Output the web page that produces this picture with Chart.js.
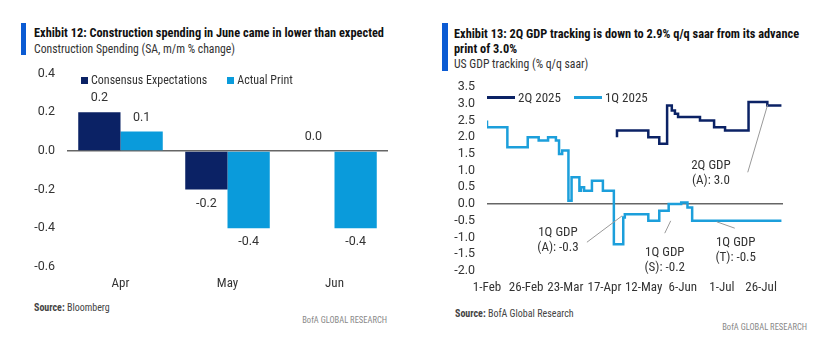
<!DOCTYPE html>
<html>
<head>
<meta charset="utf-8">
<script src="https://cdn.jsdelivr.net/npm/chart.js@4.4.1/dist/chart.umd.min.js"></script>
<style>
  body { margin: 0; width: 835px; height: 354px; background: #fff; position: relative; overflow: hidden;
         font-family: 'Liberation Sans Narrow', 'Roboto Condensed', 'DejaVu Sans Condensed', sans-serif; color: #222; }
  .abs { position: absolute; white-space: nowrap; transform-origin: left top; }
  .bar { position: absolute; background: #0b5bd3; width: 5px; }
  .title { font-weight: bold; font-size: 13px; line-height: 15px; color: #111; transform: scaleX(0.95); }
  .sub { font-size: 13px; line-height: 15px; color: #333; transform: scaleX(0.9); }
  .src { font-size: 10px; line-height: 12px; color: #444; }
  .brand { font-size: 8.5px; line-height: 10px; color: #888; }
  .leg { position: absolute; display: flex; align-items: center; white-space: nowrap; font-size: 12px; color: #333; }
  .leg span.sw { display: inline-block; margin-right: 3px; }
  canvas { position: absolute; }
</style>
</head>
<body>

<!-- left exhibit -->
<div class="bar" style="left:21px;top:23px;height:32px"></div>
<div class="abs title" style="left:34px;top:25px">Exhibit 12: Construction spending in June came in lower than expected</div>
<div class="abs sub" style="left:34px;top:41px">Construction Spending (SA, m/m % change)</div>
<canvas id="bars" width="420" height="240" style="left:0;top:54px"></canvas>
<div id="legBars" class="leg" style="left:81px;top:73px;gap:20px"></div>
<div class="abs src" style="left:34px;top:302px"><b>Source:</b> Bloomberg</div>
<div class="abs brand" style="right:448px;top:315px">BofA GLOBAL RESEARCH</div>

<!-- right exhibit -->
<div class="bar" style="left:442px;top:23px;height:48px;width:6px"></div>
<div class="abs title" style="left:454px;top:26px">Exhibit 13: 2Q GDP tracking is down to 2.9% q/q saar from its advance<br>print of 3.0%</div>
<div class="abs sub" style="left:454px;top:56px">US GDP tracking (% q/q saar)</div>
<canvas id="gdp" width="405" height="240" style="left:430px;top:60px"></canvas>
<div id="legGdp" class="leg" style="left:487px;top:90px;gap:13px;font-size:13px"></div>
<div class="abs src" style="left:455px;top:308px"><b>Source:</b> BofA Global Research</div>
<div class="abs brand" style="right:28px;top:322px">BofA GLOBAL RESEARCH</div>

<script>
// --- Exhibit 12 data
const months    = ['Apr', 'May', 'Jun'];
const consensus = [0.2, -0.2, 0.0];
const actual    = [0.1, -0.4, -0.4];

// --- Exhibit 13 data (x = days since 1-Feb-2025, step changes only)
const q2Days = [83, 103, 110, 115, 118, 120, 122, 136, 145, 152, 167, 179, 181, 188];
const q2Vals = [2.0, 2.2, 2.0, 1.8, 2.95, 2.8, 2.7, 2.6, 2.5, 2.3, 2.2, 3.05, 2.95, 2.95];
const q1Days = [0, 13, 26, 33, 39, 44, 46, 48, 52, 54, 59, 60, 62, 67, 74, 81, 87, 88, 103, 110, 116, 124, 128, 131, 145, 188];
const q1Vals = [2.5, 2.3, 1.7, 2.0, 1.9, 2.0, 1.9, 1.5, 1.6, 0.1, 0.8, 0.4, 0.5, 0.4, 0.7, 0.4, -1.2, -0.4, -0.3, -0.5, -0.2, 0.0, 0.05, -0.1, -0.5, -0.5];
const tickDays   = [0, 25, 50, 75, 100, 125, 150, 175];
const tickLabels = ['1-Feb', '26-Feb', '23-Mar', '17-Apr', '12-May', '6-Jun', '1-Jul', '26-Jul'];

// callouts: text anchor + leader line, all in data units
const callouts = [
  { text: ['2Q GDP', '(A): 3.0'],  at: [143, 1.16],   from: [166.5, 0.95],  to: [179.2, 2.97] },
  { text: ['1Q GDP', '(A): -0.3'], at: [45.3, -0.87], from: [63.8, -1.14],  to: [86.3, -0.35] },
  { text: ['1Q GDP', '(S): -0.2'], at: [113.5, -1.44], from: [113.5, -0.87], to: [117.3, -0.5] },
  { text: ['1Q GDP', '(T): -0.5'], at: [158.8, -1.17], from: [158.2, -0.72], to: [146.7, -0.53] },
];

const NAVY = '#0b2265', BLUE = '#0a9bdb', BLUE_LINE = '#1c9fdb';
const NARROW = "'Liberation Sans Narrow', 'Roboto Condensed', sans-serif";
const NUM = 'Roboto, sans-serif';

Chart.defaults.color = '#333';
Chart.defaults.font.family = NARROW;
Chart.defaults.font.size = 13;

const zeroGrid = { drawTicks: false, lineWidth: 1.5, color: c => c.tick && c.tick.value === 0 ? '#666' : 'transparent' };

const barLabels = {
  id: 'barLabels',
  afterDatasetsDraw(chart) {
    const ctx = chart.ctx;
    ctx.save();
    ctx.font = '12.5px ' + NUM;
    ctx.fillStyle = '#333';
    ctx.textAlign = 'center';
    ctx.textBaseline = 'middle';
    chart.data.datasets.forEach((ds, i) => {
      chart.getDatasetMeta(i).data.forEach((el, j) => {
        const v = ds.data[j];
        ctx.fillText(v.toFixed(1), el.x, v >= 0 ? el.y - 14 : el.y + 14);
      });
    });
    ctx.restore();
  }
};

const calloutPlugin = {
  id: 'callouts',
  afterDatasetsDraw(chart) {
    const { ctx, scales: { x, y } } = chart;
    ctx.save();
    ctx.strokeStyle = '#999';
    ctx.lineWidth = 1;
    ctx.fillStyle = '#333';
    ctx.font = '13px ' + NARROW;
    ctx.textAlign = 'center';
    ctx.textBaseline = 'middle';
    callouts.forEach(c => {
      ctx.beginPath();
      ctx.moveTo(x.getPixelForValue(c.from[0]), y.getPixelForValue(c.from[1]));
      ctx.lineTo(x.getPixelForValue(c.to[0]), y.getPixelForValue(c.to[1]));
      ctx.stroke();
      const tx = x.getPixelForValue(c.at[0]), ty = y.getPixelForValue(c.at[1]);
      c.text.forEach((t, k) => ctx.fillText(t, tx, ty + k * 15));
    });
    ctx.restore();
  }
};

const barChart = new Chart(document.getElementById('bars'), {
  type: 'bar',
  data: {
    labels: months,
    datasets: [
      { label: 'Consensus Expectations', data: consensus, backgroundColor: NAVY },
      { label: 'Actual Print', data: actual, backgroundColor: BLUE },
    ]
  },
  options: {
    responsive: false, animation: false,
    layout: { padding: { top: 18, right: 32, left: 0, bottom: 0 } },
    categoryPercentage: 0.79, barPercentage: 1,
    plugins: { legend: { display: false }, tooltip: { enabled: false } },
    scales: {
      x: {
        grid: { display: false }, border: { display: false },
        ticks: { padding: 1, font: { size: 13 } },
        afterFit: s => { s.height = 27; }
      },
      y: {
        min: -0.6, max: 0.4,
        grid: zeroGrid, border: { display: false },
        ticks: { stepSize: 0.2, padding: 12, autoSkip: false, font: { family: NUM, size: 12.5 }, callback: v => v.toFixed(1) },
        afterFit: s => { s.width = 67; }
      }
    }
  },
  plugins: [barLabels]
});

const gdpChart = new Chart(document.getElementById('gdp'), {
  type: 'line',
  data: {
    datasets: [
      { label: '2Q 2025', data: q2Days.map((d, i) => ({ x: d, y: q2Vals[i] })), borderColor: NAVY, borderWidth: 2.5, stepped: 'after', pointRadius: 0 },
      { label: '1Q 2025', data: q1Days.map((d, i) => ({ x: d, y: q1Vals[i] })), borderColor: BLUE_LINE, borderWidth: 2.5, stepped: 'after', pointRadius: 0 },
    ]
  },
  options: {
    responsive: false, animation: false,
    layout: { padding: { top: 27, right: 52, left: 0, bottom: 0 } },
    plugins: { legend: { display: false }, tooltip: { enabled: false } },
    scales: {
      x: {
        type: 'linear', min: 0, max: 189,
        grid: { display: false }, border: { display: false },
        afterBuildTicks: s => { s.ticks = tickDays.map(v => ({ value: v })); },
        ticks: { padding: 1, autoSkip: false, maxRotation: 0, minRotation: 0, font: { size: 13 },
                 callback: v => tickLabels[tickDays.indexOf(v)] },
        afterFit: s => { s.height = 29; }
      },
      y: {
        min: -2, max: 3.5,
        grid: zeroGrid, border: { display: false },
        ticks: { stepSize: 0.5, padding: 12, autoSkip: false, font: { family: NUM, size: 12.5 }, callback: v => v.toFixed(1) },
        afterFit: s => { s.width = 57; }
      }
    }
  },
  plugins: [calloutPlugin]
});

// HTML legends built from the dataset definitions
function buildLegend(el, chart, swatch) {
  chart.data.datasets.forEach(ds => {
    const item = document.createElement('div');
    item.style.display = 'flex';
    item.style.alignItems = 'center';
    const sw = document.createElement('span');
    sw.className = 'sw';
    swatch(sw, ds.backgroundColor || ds.borderColor);
    item.appendChild(sw);
    item.appendChild(document.createTextNode(ds.label));
    el.appendChild(item);
  });
}
buildLegend(document.getElementById('legBars'), barChart, (sw, c) => {
  sw.style.width = '7px'; sw.style.height = '7px'; sw.style.background = c;
});
buildLegend(document.getElementById('legGdp'), gdpChart, (sw, c) => {
  sw.style.width = '28px'; sw.style.height = '2.5px'; sw.style.background = c;
});
</script>
</body>
</html>
